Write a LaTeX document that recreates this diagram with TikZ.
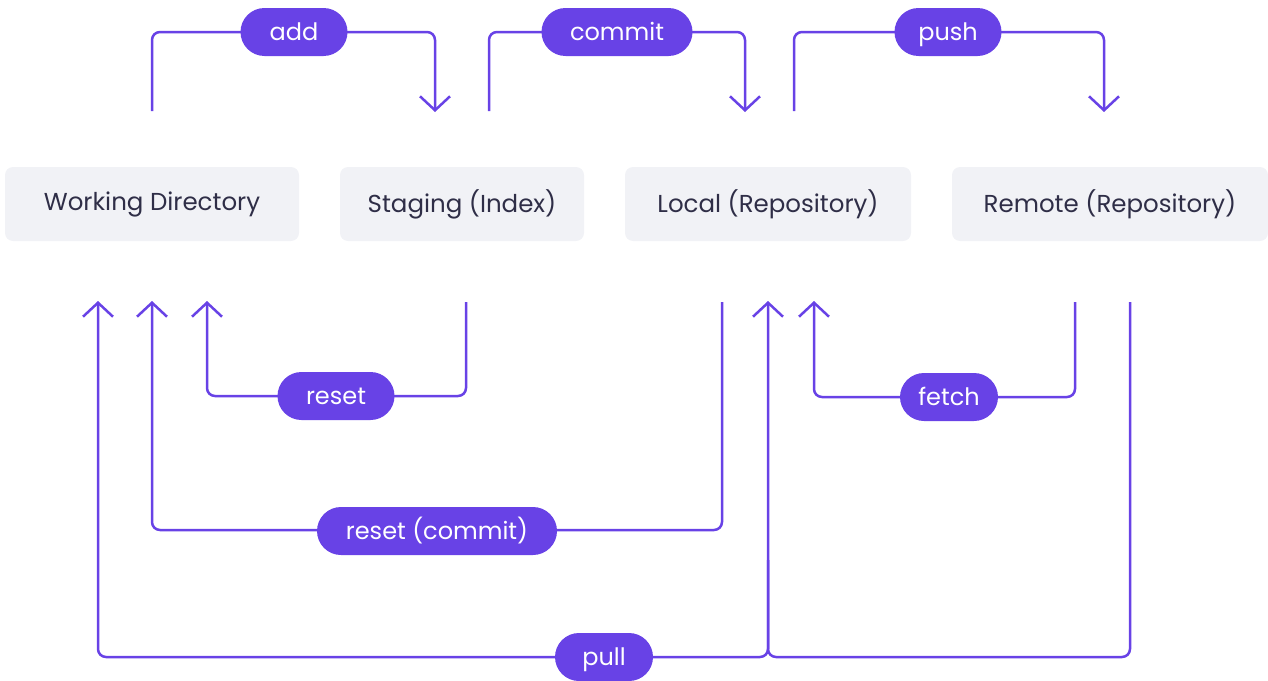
\documentclass[tikz,border=0pt]{standalone}
\usepackage{fontspec}
\setmainfont{Poppins}
\usetikzlibrary{arrows.meta}
\definecolor{pur}{HTML}{6842E6}
\definecolor{boxbg}{HTML}{F1F2F6}
\definecolor{txt}{HTML}{2F2E47}
\begin{document}
\begin{tikzpicture}[x=1pt,y=-1pt,
  box/.style={fill=boxbg, rounded corners=8pt, text=txt, inner sep=0pt, minimum height=74pt, font=\fontsize{24.5}{28}\selectfont},
  pill/.style={fill=pur, text=white, rounded corners=24pt, inner sep=0pt, minimum height=48pt, text height=19pt, text depth=3pt, font=\fontsize{24}{28}\selectfont},
  conn/.style={draw=pur, line width=2.5pt, rounded corners=8pt},
  arr/.style={-{Straight Barb[length=14pt,width=30pt]}}]
\useasboundingbox (0,0) rectangle (1268,680);
% boxes
\node[box, minimum width=294pt] (wd) at (152,204) {Working Directory};
\node[box, minimum width=244pt] (st) at (462,204) {Staging (Index)};
\node[box, minimum width=286pt] (lo) at (768,204) {Local (Repository)};
\node[box, minimum width=316pt] (re) at (1110,204) {Remote (Repository)};
% endpoints
\coordinate (addS) at (152,111); \coordinate (addE) at (435,112);
\coordinate (comS) at (489,111); \coordinate (comE) at (745,112);
\coordinate (pusS) at (794,111); \coordinate (pusE) at (1104,112);
\coordinate (rsS) at (466,302);  \coordinate (rsE) at (207,301);
\coordinate (rcS) at (722,302);  \coordinate (rcE) at (152,301);
\coordinate (feS) at (1075,302); \coordinate (feE) at (814,301);
\coordinate (puS) at (1130,302); \coordinate (puE1) at (768,301); \coordinate (puE2) at (98,301);
\coordinate (puM) at (768,560);
% connectors
\draw[conn,arr] (addS) -- (addS|-0,32) -- (addE|-0,32) -- (addE);
\draw[conn,arr] (comS) -- (comS|-0,32) -- (comE|-0,32) -- (comE);
\draw[conn,arr] (pusS) -- (pusS|-0,32) -- (pusE|-0,32) -- (pusE);
\draw[conn,arr] (rsS) -- (rsS|-0,396) -- (rsE|-0,396) -- (rsE);
\draw[conn,arr] (rcS) -- (rcS|-0,530) -- (rcE|-0,530) -- (rcE);
\draw[conn,arr] (feS) -- (feS|-0,397) -- (feE|-0,397) -- (feE);
\draw[conn,arr] (puS) -- (puS|-0,657) -- (puE1|-0,657) -- (puE1);
\draw[conn,arr] (puM) -- (puM|-0,657) -- (puE2|-0,657) -- (puE2);
% labels
\node[pill, minimum width=107pt] (add) at (294,32) {add};
\node[pill, minimum width=151pt] (commit) at (617,32) {commit};
\node[pill, minimum width=107pt] (push) at (948,32) {push};
\node[pill, minimum width=117pt] (reset) at (336,396) {reset};
\node[pill, minimum width=240pt] (resetc) at (437,531) {reset (commit)};
\node[pill, minimum width=98pt] (fetch) at (949,397) {fetch};
\node[pill, minimum width=98pt] (pull) at (604,657) {pull};
\end{tikzpicture}
\end{document}
